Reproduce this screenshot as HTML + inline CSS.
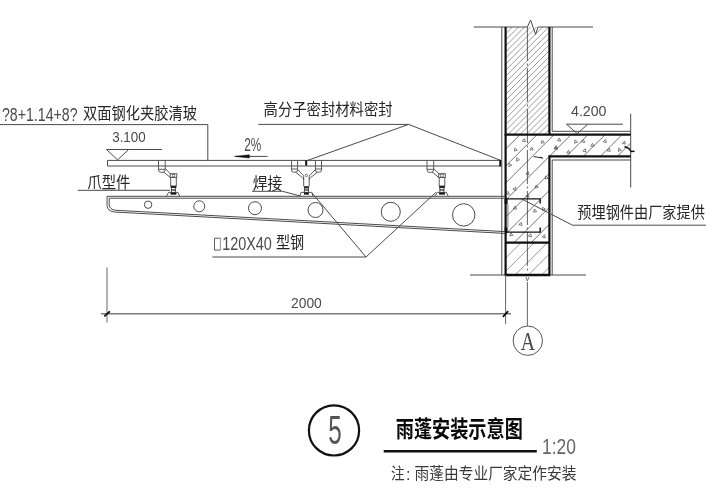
<!DOCTYPE html>
<html><head><meta charset="utf-8"><title>Canopy detail</title>
<style>
html,body{margin:0;padding:0;background:#fff;}
body{width:706px;height:500px;overflow:hidden;font-family:"Liberation Sans",sans-serif;}
svg{display:block;filter:blur(0.3px);}
</style></head><body>
<svg width="706" height="500" viewBox="0 0 706 500">
<rect width="706" height="500" fill="#fff"/>
<defs>
<clipPath id="cm1"><rect x="505.6" y="27" width="43.8" height="107.6"/></clipPath>
<clipPath id="cm2"><rect x="505.6" y="242.6" width="43.8" height="32.4"/></clipPath>
<clipPath id="cc"><path d="M505.6 134.6 H630.7 V156.4 H549.4 V242.6 H505.6 Z"/></clipPath>
</defs>
<g clip-path="url(#cm1)" stroke="#707070" stroke-width="0.7">
<line x1="505.6" y1="21.68" x2="549.4" y2="-22.12"/>
<line x1="505.6" y1="27.74" x2="549.4" y2="-16.06"/>
<line x1="505.6" y1="33.8" x2="549.4" y2="-10"/>
<line x1="505.6" y1="39.86" x2="549.4" y2="-3.94"/>
<line x1="505.6" y1="45.92" x2="549.4" y2="2.12"/>
<line x1="505.6" y1="51.98" x2="549.4" y2="8.18"/>
<line x1="505.6" y1="58.04" x2="549.4" y2="14.24"/>
<line x1="505.6" y1="64.1" x2="549.4" y2="20.3"/>
<line x1="505.6" y1="70.16" x2="549.4" y2="26.36"/>
<line x1="505.6" y1="76.22" x2="549.4" y2="32.42"/>
<line x1="505.6" y1="82.28" x2="549.4" y2="38.48"/>
<line x1="505.6" y1="88.34" x2="549.4" y2="44.54"/>
<line x1="505.6" y1="94.4" x2="549.4" y2="50.6"/>
<line x1="505.6" y1="100.46" x2="549.4" y2="56.66"/>
<line x1="505.6" y1="106.52" x2="549.4" y2="62.72"/>
<line x1="505.6" y1="112.58" x2="549.4" y2="68.78"/>
<line x1="505.6" y1="118.64" x2="549.4" y2="74.84"/>
<line x1="505.6" y1="124.7" x2="549.4" y2="80.9"/>
<line x1="505.6" y1="130.76" x2="549.4" y2="86.96"/>
<line x1="505.6" y1="136.82" x2="549.4" y2="93.02"/>
<line x1="505.6" y1="142.88" x2="549.4" y2="99.08"/>
<line x1="505.6" y1="148.94" x2="549.4" y2="105.14"/>
<line x1="505.6" y1="155" x2="549.4" y2="111.2"/>
<line x1="505.6" y1="161.06" x2="549.4" y2="117.26"/>
<line x1="505.6" y1="167.12" x2="549.4" y2="123.32"/>
<line x1="505.6" y1="173.18" x2="549.4" y2="129.38"/>
<line x1="505.6" y1="179.24" x2="549.4" y2="135.44"/>
</g>
<g clip-path="url(#cm2)" stroke="#707070" stroke-width="0.7">
<line x1="505.6" y1="231.5" x2="549.4" y2="187.7"/>
<line x1="505.6" y1="244.75" x2="549.4" y2="200.95"/>
<line x1="505.6" y1="258" x2="549.4" y2="214.2"/>
<line x1="505.6" y1="271.25" x2="549.4" y2="227.45"/>
<line x1="505.6" y1="284.5" x2="549.4" y2="240.7"/>
<line x1="505.6" y1="297.75" x2="549.4" y2="253.95"/>
<line x1="505.6" y1="311" x2="549.4" y2="267.2"/>
<line x1="505.6" y1="324.25" x2="549.4" y2="280.45"/>
</g>
<g clip-path="url(#cc)" stroke="#505050" stroke-width="0.8">
<line x1="505.6" y1="132.1" x2="630.7" y2="7"/>
<line x1="505.6" y1="149.1" x2="630.7" y2="24"/>
<line x1="505.6" y1="166.1" x2="630.7" y2="41"/>
<line x1="505.6" y1="183.1" x2="630.7" y2="58"/>
<line x1="505.6" y1="200.1" x2="630.7" y2="75"/>
<line x1="505.6" y1="217.1" x2="630.7" y2="92"/>
<line x1="505.6" y1="234.1" x2="630.7" y2="109"/>
<line x1="505.6" y1="251.1" x2="630.7" y2="126"/>
<line x1="505.6" y1="268.1" x2="630.7" y2="143"/>
<line x1="505.6" y1="285.1" x2="630.7" y2="160"/>
<line x1="505.6" y1="302.1" x2="630.7" y2="177"/>
<line x1="505.6" y1="319.1" x2="630.7" y2="194"/>
<line x1="505.6" y1="336.1" x2="630.7" y2="211"/>
<line x1="505.6" y1="353.1" x2="630.7" y2="228"/>
<line x1="505.6" y1="370.1" x2="630.7" y2="245"/>
</g>
<g fill="none" stroke="#4a4a4a" stroke-width="0.7" stroke-linejoin="round">
<path d="M515.0 147.9 L517.3 150.2 L514.2 151.0 Z"/>
<path d="M531.7 147.1 L533.2 150.0 L529.9 149.9 Z"/>
<path d="M542.3 140.1 L544.3 142.7 L541.0 143.2 Z"/>
<path d="M559.4 138.0 L560.7 141.0 L557.5 140.7 Z"/>
<path d="M556.3 146.4 L557.6 149.4 L554.3 149.0 Z"/>
<path d="M516.8 157.8 L519.5 159.7 L516.5 161.1 Z"/>
<path d="M509.0 163.4 L511.8 165.2 L508.9 166.7 Z"/>
<path d="M528.4 171.7 L529.0 174.9 L525.9 173.9 Z"/>
<path d="M545.8 175.9 L548.1 178.2 L544.9 179.0 Z"/>
<path d="M536.0 185.0 L538.3 187.3 L535.2 188.1 Z"/>
<path d="M515.7 187.2 L515.8 190.5 L512.9 189.0 Z"/>
<path d="M507.7 191.4 L509.5 194.2 L506.2 194.3 Z"/>
<path d="M528.4 194.1 L529.0 197.3 L525.9 196.3 Z"/>
<path d="M555.9 145.6 L557.6 148.4 L554.3 148.5 Z"/>
<path d="M568.7 150.3 L569.9 153.4 L566.6 152.9 Z"/>
<path d="M575.0 139.9 L577.6 142.0 L574.5 143.2 Z"/>
<path d="M583.5 139.4 L584.7 142.5 L581.4 142.0 Z"/>
<path d="M585.4 148.8 L585.9 152.1 L582.8 150.9 Z"/>
<path d="M592.5 143.3 L594.1 146.2 L590.8 146.1 Z"/>
<path d="M605.5 139.5 L606.4 142.6 L603.2 141.8 Z"/>
<path d="M609.2 148.3 L610.4 151.4 L607.1 150.9 Z"/>
<path d="M618.7 148.1 L621.4 150.0 L618.4 151.4 Z"/>
<path d="M624.6 141.0 L625.4 144.1 L622.3 143.3 Z"/>
<path d="M515.2 206.1 L516.6 209.1 L513.3 208.8 Z"/>
<path d="M534.5 209.0 L536.7 211.5 L533.5 212.2 Z"/>
<path d="M542.6 207.3 L545.4 209.1 L542.5 210.6 Z"/>
<path d="M521.4 222.4 L521.9 225.7 L518.8 224.5 Z"/>
<path d="M511.1 232.8 L512.9 235.6 L509.6 235.7 Z"/>
<path d="M530.6 233.7 L531.6 236.9 L528.4 236.2 Z"/>
<path d="M544.7 234.7 L545.2 238.0 L542.1 236.8 Z"/>
<path d="M524.4 138.6 L525.4 141.8 L522.2 141.1 Z"/>
</g>
<path d="M533.6 156.6 L542.8 158 M540.2 157 L542.9 158.4" stroke="#333" stroke-width="1" fill="none"/>
<line x1="473.8" y1="27" x2="527.4" y2="27" stroke="#4a4a4a" stroke-width="1" />
<path d="M527.4 27 L530.6 20 L535.6 34.4 L538 27 L593 27" stroke="#4a4a4a" stroke-width="1" fill="none" />
<line x1="501.8" y1="27" x2="501.8" y2="275" stroke="#4a4a4a" stroke-width="1" />
<path d="M552.2 27 L552.2 131.3 L630.7 131.3" stroke="#4a4a4a" stroke-width="1" fill="none" />
<path d="M630.7 160 L552.2 160 L552.2 275" stroke="#4a4a4a" stroke-width="1" fill="none" />
<line x1="630.7" y1="113.7" x2="630.7" y2="187.5" stroke="#4a4a4a" stroke-width="1" />
<line x1="527.4" y1="27" x2="527.4" y2="272" stroke="#444" stroke-width="0.85" stroke-dasharray="34 2.5 2 2.5"/>
<line x1="527.4" y1="282" x2="527.4" y2="326" stroke="#555" stroke-width="0.9" />
<line x1="470" y1="275" x2="586" y2="275" stroke="#4a4a4a" stroke-width="1" />
<line x1="505.6" y1="27" x2="505.6" y2="275" stroke="#101010" stroke-width="2.2" />
<line x1="549.4" y1="27" x2="549.4" y2="134.6" stroke="#101010" stroke-width="2.2" />
<line x1="504.7" y1="134.6" x2="630.7" y2="134.6" stroke="#101010" stroke-width="2.2" />
<path d="M630.7 156.4 L549.4 156.4 L549.4 275" stroke="#101010" stroke-width="2.2" fill="none" />
<line x1="505.6" y1="242.6" x2="549.4" y2="242.6" stroke="#101010" stroke-width="2.2" />
<line x1="504.7" y1="275" x2="550.3" y2="275" stroke="#101010" stroke-width="2.3" />
<path d="M624.5 146.5 L629 148.5 L631 151.5 L634.5 151.2" stroke="#101010" stroke-width="1.4" fill="none" />
<path d="M540.2 203.6 L540.2 198.9 L506 198.9" stroke="#101010" stroke-width="1.4" fill="none" />
<path d="M506 232.1 L540.2 232.1 L540.2 227.4" stroke="#101010" stroke-width="1.4" fill="none" />
<line x1="507.9" y1="203.8" x2="507.9" y2="227.4" stroke="#555" stroke-width="0.8" />
<path d="M525.8 277 L527.4 281 L529 277" stroke="#555" stroke-width="0.8" fill="none" />
<line x1="566.5" y1="124.2" x2="622.9" y2="124.2" stroke="#4a4a4a" stroke-width="1" />
<path d="M566.5 124.2 L577.2 133.6 L587.8 124.2" stroke="#4a4a4a" stroke-width="1" fill="none" />
<text x="571" y="116.35" font-family="'Liberation Sans', sans-serif" font-size="14.5" fill="#4a4a4a" textLength="35.5" lengthAdjust="spacingAndGlyphs">4.200</text>
<path d="M500.4 160.4 L107.5 160.4 L107.5 166 L500.4 166" stroke="#4a4a4a" stroke-width="1" fill="none" />
<rect x="499.3" y="159.9" width="2" height="6.6" fill="#111" stroke="none" stroke-width="0"/>
<rect x="305.2" y="160.4" width="2" height="5.2" fill="#111" stroke="none" stroke-width="0"/>
<line x1="106.5" y1="149.5" x2="162" y2="149.5" stroke="#4a4a4a" stroke-width="1" />
<path d="M106.5 149.5 L117.6 159.9 L128.7 149.5" stroke="#4a4a4a" stroke-width="1" fill="none" />
<text x="112.2" y="141.85" font-family="'Liberation Sans', sans-serif" font-size="14.5" fill="#4a4a4a" textLength="33.5" lengthAdjust="spacingAndGlyphs">3.100</text>
<path d="M505.1 196.3 L107 196.3 L107 205.4" stroke="#4a4a4a" stroke-width="1" fill="none" />
<path d="M107 205.4 Q107.4 211.2 114.5 212.017 L505 233.416" stroke="#4a4a4a" stroke-width="1" fill="none"/>
<path d="M505 198.2 H109.2 V205 Q109.6 209.4 115.5 210.272 L505 231.616" stroke="#4a4a4a" stroke-width="1" fill="none"/>
<circle cx="148.1" cy="204.7" r="3.7" stroke="#4a4a4a" stroke-width="1" fill="none"/>
<circle cx="199.3" cy="206.3" r="5.5" stroke="#4a4a4a" stroke-width="1" fill="none"/>
<circle cx="255" cy="208.2" r="6.5" stroke="#4a4a4a" stroke-width="1" fill="none"/>
<circle cx="315.5" cy="210" r="7.5" stroke="#4a4a4a" stroke-width="1" fill="none"/>
<circle cx="390.8" cy="211.8" r="9.5" stroke="#4a4a4a" stroke-width="1" fill="none"/>
<circle cx="463.7" cy="214.9" r="11.2" stroke="#4a4a4a" stroke-width="1" fill="none"/>
<rect x="504.6" y="198.9" width="3" height="5" fill="#111" stroke="none" stroke-width="0"/>
<rect x="504.6" y="227.3" width="3" height="5" fill="#111" stroke="none" stroke-width="0"/>
<g transform="translate(0,0)" fill="none" stroke="#4a4a4a" stroke-width="0.9">
<path d="M158.5 166 V170 Q158.3 172.4 161.9 172.5 Q165.4 172.4 165.2 170 V166"/>
<path d="M158.5 160.4 V166 M165.2 160.4 V166"/>
<path d="M158.5 169.3 H165.2"/>
<path d="M165.2 168.6 L171 174.3 M163.6 171.9 L170.4 177.6"/>
<rect x="170.2" y="173.7" width="6.6" height="3.8"/>
<rect x="172.2" y="174.5" width="2.6" height="2.4" stroke-width="0.6"/>
<path d="M170.7 177.5 V186 M176.3 177.5 V186"/>
<rect x="170.6" y="185.6" width="5.8" height="2.4" fill="#222" stroke="none"/>
<path d="M171.4 188 V192.3 M175.4 188 V192.3"/>
<rect x="171.0" y="189.3" width="5.0" height="1.3" fill="#333" stroke="none"/>
<rect x="170.6" y="192" width="5.8" height="2.6" fill="#111" stroke="none"/>
<path d="M166.4 196.3 L168.6 192.4 H178 L179.7 196.3"/>
</g>
<g transform="translate(268.5,0)" fill="none" stroke="#4a4a4a" stroke-width="0.9">
<path d="M158.5 166 V170 Q158.3 172.4 161.9 172.5 Q165.4 172.4 165.2 170 V166"/>
<path d="M158.5 160.4 V166 M165.2 160.4 V166"/>
<path d="M158.5 169.3 H165.2"/>
<path d="M165.2 168.6 L171 174.3 M163.6 171.9 L170.4 177.6"/>
<rect x="170.2" y="173.7" width="6.6" height="3.8"/>
<rect x="172.2" y="174.5" width="2.6" height="2.4" stroke-width="0.6"/>
<path d="M170.7 177.5 V186 M176.3 177.5 V186"/>
<rect x="170.6" y="185.6" width="5.8" height="2.4" fill="#222" stroke="none"/>
<path d="M171.4 188 V192.3 M175.4 188 V192.3"/>
<rect x="171.0" y="189.3" width="5.0" height="1.3" fill="#333" stroke="none"/>
<rect x="170.6" y="192" width="5.8" height="2.6" fill="#111" stroke="none"/>
<path d="M166.4 196.3 L168.6 192.4 H178 L179.7 196.3"/>
</g>
<g fill="none" stroke="#4a4a4a" stroke-width="0.9">
<path d="M291.6 160.4 V170 Q291.2 172.3 294.6 172.3 Q298 172.3 297.6 170 V160.4"/>
<path d="M291.6 169 H297.6"/>
<path d="M315.4 160.4 V170 Q315 172.3 318.45 172.3 Q321.9 172.3 321.5 170 V160.4"/>
<path d="M315.4 169 H321.5"/>
<path d="M297.6 169.6 L303.7 175.9 M315.4 169.6 L309.2 175.9"/>
<path d="M295.6 172.2 L302.4 177.6 Q303.7 178.6 303.7 180 M317.4 172.2 L310.6 177.6 Q309.2 178.6 309.2 180"/>
<circle cx="306.4" cy="175.4" r="1.2" stroke-width="0.7"/>
<path d="M303.7 176 V186.4 M309.2 176 V186.4"/>
<rect x="304" y="186.2" width="4.9" height="2.2" fill="#222" stroke="none"/>
<path d="M304.4 188 V192.3 M308.5 188 V192.3"/>
<rect x="304.2" y="189.3" width="4.5" height="1.3" fill="#333" stroke="none"/>
<rect x="304" y="192" width="4.9" height="2.6" fill="#111" stroke="none"/>
<path d="M299.8 196.3 L300.9 192.4 H311.9 L313 196.3"/>
</g>
<path d="M0 124.6 L207.8 124.6 L207.8 160.4" stroke="#4a4a4a" stroke-width="1" fill="none" />
<line x1="258.4" y1="124.4" x2="408.6" y2="124.4" stroke="#4a4a4a" stroke-width="1" />
<line x1="408.6" y1="124.4" x2="307" y2="160.6" stroke="#4a4a4a" stroke-width="1" />
<line x1="408.6" y1="124.4" x2="500.2" y2="160.2" stroke="#4a4a4a" stroke-width="1" />
<line x1="236" y1="156.4" x2="267.6" y2="156.4" stroke="#4a4a4a" stroke-width="1" />
<path d="M234.4 156.4 L249.3 154.8 L249.3 158 Z" stroke="#111" stroke-width="0.5" fill="#111" />
<line x1="77.8" y1="190.3" x2="170" y2="190.3" stroke="#4a4a4a" stroke-width="1" />
<path d="M252 191.3 L282.5 191.3 L300.3 196" stroke="#4a4a4a" stroke-width="1" fill="none" />
<path d="M212.4 257 L366 257" stroke="#4a4a4a" stroke-width="1" fill="none" />
<path d="M312 193 L366 257 L435.9 192.4" stroke="#4a4a4a" stroke-width="1" fill="none" />
<path d="M521 198.6 L572.5 225.2 L706 225.2" stroke="#4a4a4a" stroke-width="1" fill="none" />
<line x1="107" y1="267.5" x2="107" y2="322.5" stroke="#666" stroke-width="1" />
<line x1="505.6" y1="275" x2="505.6" y2="323.8" stroke="#666" stroke-width="1" />
<line x1="101" y1="313.8" x2="511" y2="313.8" stroke="#7a7a7a" stroke-width="1.4" />
<line x1="104.3" y1="316.4" x2="109.9" y2="311.4" stroke="#111" stroke-width="1.8" />
<line x1="502.9" y1="316.8" x2="508.2" y2="311.2" stroke="#111" stroke-width="1.8" />
<text x="291" y="308.35" font-family="'Liberation Sans', sans-serif" font-size="14.8" fill="#4a4a4a" textLength="30.8" lengthAdjust="spacingAndGlyphs">2000</text>
<circle cx="527.8" cy="340.7" r="14.7" stroke="#555" stroke-width="1" fill="none"/>
<text x="527.8" y="349.7" text-anchor="middle" font-family="'Liberation Serif', serif" font-size="25" fill="#4a4a4a" textLength="14.3" lengthAdjust="spacingAndGlyphs">A</text>
<text x="2" y="120.75" font-family="'Liberation Sans', sans-serif" font-size="17.5" fill="#4a4a4a" textLength="75.5" lengthAdjust="spacingAndGlyphs">?8+1.14+8?</text>
<text x="244.3" y="151.25" font-family="'Liberation Sans', sans-serif" font-size="18.5" fill="#4a4a4a" textLength="17" lengthAdjust="spacingAndGlyphs">2%</text>
<text x="222.2" y="250.05" font-family="'Liberation Sans', sans-serif" font-size="17.5" fill="#4a4a4a" textLength="49.7" lengthAdjust="spacingAndGlyphs">120X40</text>
<path d="M220.4 238.2 L214.5 238.2 L214.5 250.1 L220.4 250.1" stroke="#4a4a4a" stroke-width="0.9" fill="none" />
<line x1="220.4" y1="238.2" x2="220.4" y2="250.1" stroke="#777" stroke-width="0.8" />
<text x="542" y="453.85" font-family="'Liberation Sans', sans-serif" font-size="22" fill="#666" textLength="34" lengthAdjust="spacingAndGlyphs">1:20</text>
<circle cx="334" cy="430.4" r="25.1" stroke="#111" stroke-width="2.2" fill="none"/>
<text x="335" y="443.6" text-anchor="middle" font-family="'Liberation Sans', sans-serif" font-size="40" fill="#555" textLength="13.5" lengthAdjust="spacingAndGlyphs">5</text>
<line x1="383.7" y1="451.2" x2="536.8" y2="451.2" stroke="#111" stroke-width="2.6" />
<text x="83" y="118.5" font-family="'Liberation Sans', 'Noto Sans CJK SC', sans-serif" font-size="16" fill="#262626" textLength="114" lengthAdjust="spacingAndGlyphs">双面钢化夹胶清玻</text>
<text x="263.6" y="114.7" font-family="'Liberation Sans', 'Noto Sans CJK SC', sans-serif" font-size="16" fill="#262626" textLength="129" lengthAdjust="spacingAndGlyphs">高分子密封材料密封</text>
<text x="87.3" y="187.8" font-family="'Liberation Sans', 'Noto Sans CJK SC', sans-serif" font-size="16" fill="#262626" textLength="43" lengthAdjust="spacingAndGlyphs">爪型件</text>
<text x="252.8" y="188.5" font-family="'Liberation Sans', 'Noto Sans CJK SC', sans-serif" font-size="16" fill="#262626" textLength="29.6" lengthAdjust="spacingAndGlyphs">焊接</text>
<text x="276" y="247.8" font-family="'Liberation Sans', 'Noto Sans CJK SC', sans-serif" font-size="16" fill="#262626" textLength="28.2" lengthAdjust="spacingAndGlyphs">型钢</text>
<text x="577.3" y="218" font-family="'Liberation Sans', 'Noto Sans CJK SC', sans-serif" font-size="16" fill="#262626" textLength="127.6" lengthAdjust="spacingAndGlyphs">预埋钢件由厂家提供</text>
<text x="395.8" y="436.5" font-family="'Liberation Sans', 'Noto Sans CJK SC', sans-serif" font-size="23" font-weight="bold" fill="#0a0a0a" textLength="127" lengthAdjust="spacingAndGlyphs">雨蓬安装示意图</text>
<text x="391" y="479" font-family="'Liberation Sans', 'Noto Sans CJK SC', sans-serif" font-size="16" fill="#3a3a3a" textLength="13.6" lengthAdjust="spacingAndGlyphs">注</text>
<text x="408.2" y="479.5" text-anchor="middle" font-family="'Liberation Sans', 'Noto Sans CJK SC', sans-serif" font-size="16" fill="#3a3a3a">:</text>
<text x="414.5" y="479" font-family="'Liberation Sans', 'Noto Sans CJK SC', sans-serif" font-size="16" fill="#3a3a3a" textLength="162" lengthAdjust="spacingAndGlyphs">雨蓬由专业厂家定作安装</text>
</svg>
</body></html>
